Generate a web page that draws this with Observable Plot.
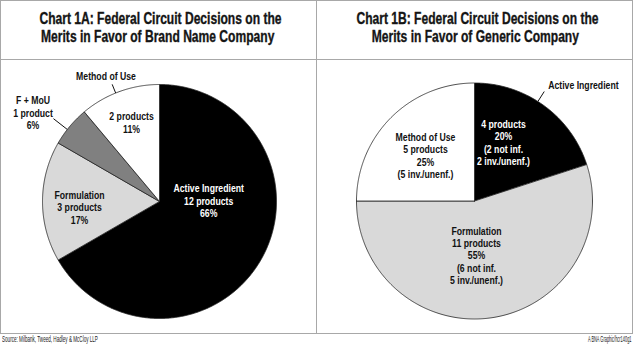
<!DOCTYPE html>
<html>
<head>
<meta charset="utf-8">
<script src="https://cdn.jsdelivr.net/npm/d3@7"></script>
<script src="https://cdn.jsdelivr.net/npm/@observablehq/plot@0.6"></script>
<style>
  html, body { margin: 0; padding: 0; background: #fff; }
  #wrap { position: relative; width: 633px; height: 345px; overflow: hidden; font-family: "Liberation Sans", Arial, sans-serif; }
  .frame { position: absolute; left: 0; top: 0; width: 633px; height: 334px; box-sizing: border-box; border: 1.5px solid #a8a8a8; }
  .vline { position: absolute; left: 315.5px; top: 0; width: 1.5px; height: 334px; background: #a8a8a8; }
  .hline { position: absolute; left: 0; top: 58.5px; width: 633px; height: 1.5px; background: #a8a8a8; }
  .title { position: absolute; top: 10px; width: 316px; text-align: center; font-weight: bold; font-size: 16px; line-height: 18px; color: #151515; -webkit-text-stroke: 0.35px #151515; }
  .title div { white-space: nowrap; }
  .title span, .foot span { display: inline-block; white-space: nowrap; }
  .panel { position: absolute; top: 60px; }
  .foot { position: absolute; top: 334px; font-size: 8.5px; line-height: 11px; color: #1a1a1a; }
  .foot span { transform-origin: 0 50%; }
  #credit span { transform-origin: 100% 50%; }
</style>
</head>
<body>
<div id="wrap">
  <div class="frame"></div>
  <div class="vline"></div>
  <div class="hline"></div>
  <div class="title" id="titleA" style="left:0"></div>
  <div class="title" id="titleB" style="left:317px"></div>
  <div class="panel" id="pieA" style="left:0"></div>
  <div class="panel" id="pieB" style="left:317px"></div>
  <div class="foot" id="source" style="left:2px"></div>
  <div class="foot" id="credit" style="right:1px"></div>
</div>
<script>
// ---- Data ----
const titleA = ["Chart 1A: Federal Circuit Decisions on the", "Merits in Favor of Brand Name Company"];
const titleB = ["Chart 1B: Federal Circuit Decisions on the", "Merits in Favor of Generic Company"];
const sourceText = "Source: Milbank, Tweed, Hadley & McCloy LLP";
const creditText = "A BNA Graphic/hcr140g1";

const namesA = ["Active Ingredient", "Formulation", "F + MoU", "Method of Use"];
const valuesA = [12, 3, 1, 2];
const percentsA = ["66%", "17%", "6%", "11%"];

const namesB = ["Active Ingredient", "Formulation", "Method of Use"];
const valuesB = [4, 11, 5];
const percentsB = ["20%", "55%", "25%"];
const notesB = ["(2 not inf.\n2 inv./unenf.)", "(6 not inf.\n5 inv./unenf.)", "(5 inv./unenf.)"];

// ---- Styles / layout ----
const colorsA = ["#000000", "#d9d9d9", "#808080", "#ffffff"];
const colorsB = ["#000000", "#d9d9d9", "#ffffff"];
const textOnA = ["white", "black", "black", "black"];
const textOnB = ["white", "black", "black"];
// label layout in polar terms: [angle deg clockwise from top, radius fraction]
const layoutA = [
  {inside: [89, 0.42], nameInside: true},
  {inside: [266, 0.685], nameInside: true},
  {outside: [305, 1.32], leader: [308, 1.0, 1.15], allOutside: true},
  {inside: [340.5, 0.716], outside: [337, 1.17], leader: [338, 1.0, 1.08]}
];
const layoutB = [
  {inside: [26.4, 0.553], outside: [43.1, 1.35], leader: [32.5, 1.0, 1.1]},
  {inside: [177.9, 0.462], nameInside: true},
  {inside: [312.9, 0.567], nameInside: true}
];

const FONT = '"Liberation Sans", Arial, sans-serif';
const LABEL_SIZE = 10.5;

function polar(angleDeg, r) {
  const a = angleDeg * Math.PI / 180;
  return {x: r * Math.sin(a), y: r * Math.cos(a)};
}

function slicePoints(names, values) {
  const arcs = d3.pie().sort(null).value(d => d)(values);
  const pts = [];
  arcs.forEach((a, i) => {
    const n = Math.max(2, Math.ceil((a.endAngle - a.startAngle) / (Math.PI / 360)));
    pts.push({name: names[i], x: 0, y: 0});
    for (let k = 0; k <= n; k++) {
      const t = a.startAngle + (a.endAngle - a.startAngle) * k / n;
      pts.push({name: names[i], x: Math.sin(t), y: Math.cos(t)});
    }
    pts.push({name: names[i], x: 0, y: 0});
  });
  return pts;
}

function productText(v) { return `${v} product${v > 1 ? "s" : ""}`; }

function buildLabels(names, values, percents, notes, layout, textOn) {
  const labels = [], leaders = [];
  names.forEach((name, i) => {
    const L = layout[i];
    const body = [productText(values[i]), percents[i]];
    if (notes && notes[i]) body.push(notes[i]);
    if (L.allOutside) {
      const p = polar(...L.outside);
      labels.push({...p, text: [name, ...body].join("\n"), color: "black"});
    } else {
      const p = polar(...L.inside);
      const lines = L.nameInside ? [name, ...body] : body;
      labels.push({...p, text: lines.join("\n"), color: textOn[i]});
      if (L.outside) {
        const q = polar(...L.outside);
        labels.push({...q, text: name, color: "black"});
      }
    }
    if (L.leader) {
      const [ang, r0, r1] = L.leader;
      const a = polar(ang, r0), b = polar(ang, r1);
      leaders.push({x1: a.x, y1: a.y, x2: b.x, y2: b.y});
    }
  });
  return {labels, leaders};
}

function pie(names, values, percents, notes, colors, layout, textOn, margins) {
  const pts = slicePoints(names, values);
  const {labels, leaders} = buildLabels(names, values, percents, notes, layout, textOn);
  return Plot.plot({
    width: 316, height: 273,
    ...margins,
    style: {fontFamily: FONT, background: "transparent", overflow: "visible"},
    x: {domain: [-1, 1], axis: null},
    y: {domain: [-1, 1], axis: null},
    color: {domain: names, range: colors},
    marks: [
      Plot.line(pts, {x: "x", y: "y", z: "name", fill: "name", stroke: "#222", strokeWidth: 0.8, strokeLinejoin: "miter"}),
      Plot.link(leaders, {x1: "x1", y1: "y1", x2: "x2", y2: "y2", stroke: "#111", strokeWidth: 1}),
      Plot.text(labels.filter(d => d.color === "white"), {x: "x", y: "y", text: "text", fill: "white", fontSize: LABEL_SIZE, fontWeight: "bold", lineHeight: 1.19}),
      Plot.text(labels.filter(d => d.color !== "white"), {x: "x", y: "y", text: "text", fill: "#111", fontSize: LABEL_SIZE, fontWeight: "bold", lineHeight: 1.19})
    ]
  });
}

// measure helper (canvas) to compress text horizontally like the condensed face of the original
const ctx = document.createElement("canvas").getContext("2d");
function textWidth(str, font) { ctx.font = font; return ctx.measureText(str).width; }

// titles
function fillTitle(id, lines) {
  const el = document.getElementById(id);
  const s = 242 / textWidth(lines[0], `bold 16px ${FONT}`);
  lines.forEach(line => {
    const row = document.createElement("div");
    const span = document.createElement("span");
    span.textContent = line;
    span.style.transform = `scaleX(${s})`;
    row.appendChild(span);
    el.appendChild(row);
  });
}
fillTitle("titleA", titleA);
fillTitle("titleB", titleB);

function fillFoot(id, text, target) {
  const el = document.getElementById(id);
  const span = document.createElement("span");
  span.textContent = text;
  span.style.transform = `scaleX(${target / textWidth(text, `8.5px ${FONT}`)})`;
  el.appendChild(span);
}
fillFoot("source", sourceText, 96);
fillFoot("credit", creditText, 44);

function condense(svg, s) {
  svg.querySelectorAll("text").forEach(t => {
    const b = t.getBBox();
    const cx = b.x + b.width / 2;
    const prev = t.getAttribute("transform") || "";
    t.setAttribute("transform", `${prev} translate(${cx},0) scale(${s},1) translate(${-cx},0)`);
  });
}
const labelScale = 70.6 / textWidth("Active Ingredient", `bold ${LABEL_SIZE}px ${FONT}`);

const svgA = pie(namesA, valuesA, percentsA, null, colorsA, layoutA, textOnA,
      {marginLeft: 42, marginRight: 40, marginTop: 24, marginBottom: 15});
document.getElementById("pieA").appendChild(svgA);
condense(svgA, labelScale);
const svgB = pie(namesB, valuesB, percentsB, notesB, colorsB, layoutB, textOnB,
      {marginLeft: 39, marginRight: 41, marginTop: 22.5, marginBottom: 14.5});
document.getElementById("pieB").appendChild(svgB);
condense(svgB, labelScale);
</script>
</body>
</html>
